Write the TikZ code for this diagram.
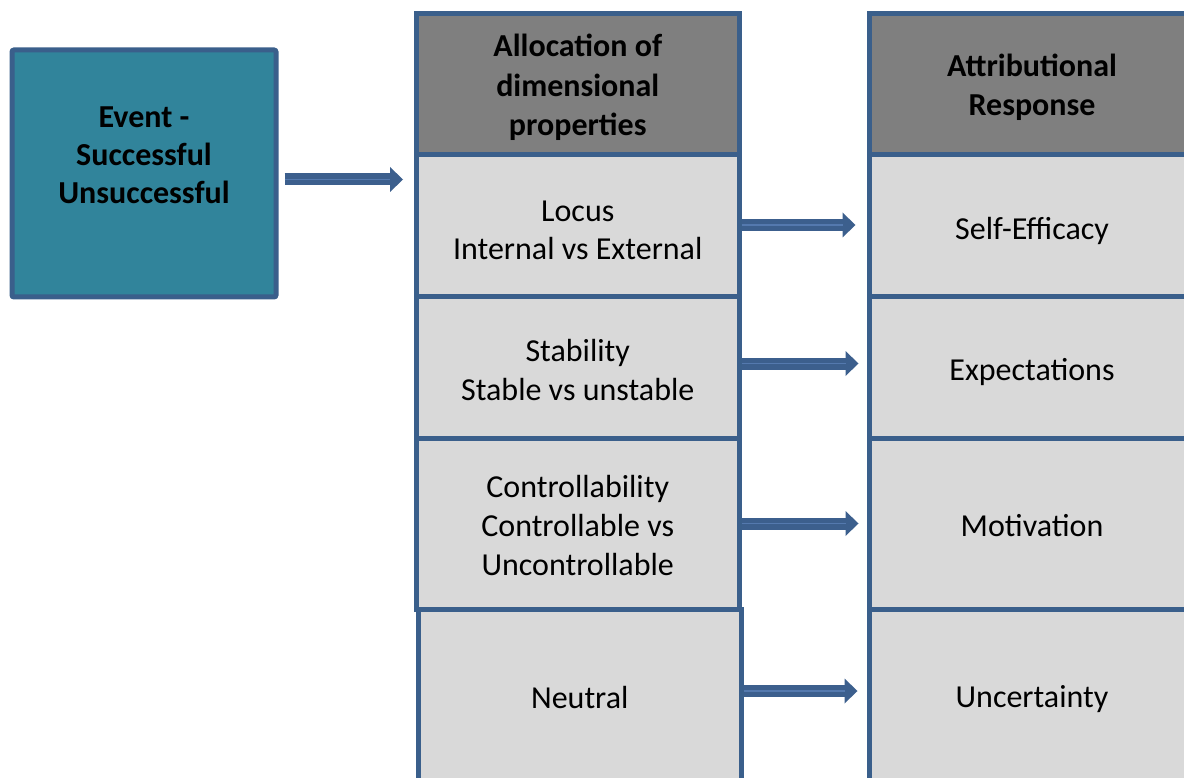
\documentclass[tikz,border=0pt]{standalone}
\usepackage{fontspec}
\setmainfont{Carlito}
\usetikzlibrary{arrows.meta,calc}
\definecolor{bordblue}{HTML}{3A5F8B}
\definecolor{evtteal}{HTML}{31849B}
\definecolor{hdrgray}{HTML}{7F7F7F}
\definecolor{rowgray}{HTML}{D9D9D9}
\definecolor{arrowblue}{HTML}{3C5F8D}
\definecolor{arrowlight}{HTML}{5479AE}
\tikzset{
  txt/.style={font=\fontsize{32pt}{38.5pt}\selectfont, align=center, inner sep=0pt},
  btxt/.style={txt, font=\fontsize{32pt}{39.5pt}\selectfont\bfseries},
  box/.style={draw=bordblue, line width=5pt, rectangle, inner sep=0pt},
  hdr/.style={box, fill=hdrgray},
  rowbox/.style={box, fill=rowgray},
  midcol/.style={minimum width=322.5pt},
  rightcol/.style={minimum width=326pt},
  bigarrow/.style={draw=arrowblue, line width=12pt,
    -{Triangle[length=13pt, width=25pt, line width=0pt]},
    postaction={draw=arrowlight, line width=1.5pt, -, shorten >=13pt}}
}
\begin{document}
\begin{tikzpicture}[x=1pt,y=-1pt]
\useasboundingbox (0,0) rectangle (1184,778);
\clip (0,0) rectangle (1184,778);
% event box
\node[box, fill=evtteal, rounded corners=2pt, minimum width=264pt, minimum height=247pt] (evt) at (144,173.5) {};
\node[btxt, font=\fontsize{32pt}{38pt}\selectfont\bfseries] (evttext) at (144,155) {Event -\\Successful\\Unsuccessful};
% middle column boxes
\node[hdr, midcol, minimum height=141pt] (alloc) at (577.75,84.5) {};
\node[rowbox, midcol, minimum height=142pt] (loc) at (577.75,226) {};
\node[rowbox, midcol, minimum height=141pt] (stab) at (577.75,367.5) {};
\node[rowbox, midcol, minimum height=171pt] (ctrl) at (577.75,523.5) {};
\node[rowbox, midcol, minimum height=181pt] (neu) at (579.75,699.5) {};
% right column boxes
\node[hdr, rightcol, minimum height=141pt] (attr) at (1032,84.5) {};
\node[rowbox, rightcol, minimum height=142pt] (eff) at (1032,226) {};
\node[rowbox, rightcol, minimum height=141pt] (expt) at (1032,367.5) {};
\node[rowbox, rightcol, minimum height=171pt] (mot) at (1032,523.5) {};
\node[rowbox, rightcol, minimum height=181pt] (unc) at (1032,699.5) {};
% texts
\node[btxt] (alloctext) at ([yshift=-3pt]alloc.center) {Allocation of\\dimensional\\properties};
\node[txt] (loctext) at ([yshift=-4.5pt]loc.center) {Locus\\Internal vs External};
\node[txt] (stabtext) at ([yshift=-2.5pt]stab.center) {Stability\\Stable vs unstable};
\node[txt, font=\fontsize{32pt}{39pt}\selectfont] (ctrltext) at ([yshift=-2.5pt]ctrl.center) {Controllability\\Controllable vs\\Uncontrollable};
\node[txt] (neutext) at ([yshift=2pt]neu.center) {Neutral};
\node[btxt] (attrtext) at ([yshift=-3pt]attr.center) {Attributional\\Response};
\node[txt] (efftext) at ([yshift=-5pt]eff.center) {Self-Efficacy};
\node[txt] (expttext) at ([yshift=-4.5pt]expt.center) {Expectations};
\node[txt] (mottext) at ([yshift=-2pt]mot.center) {Motivation};
\node[txt] (unctext) at (unc.center) {Uncertainty};
% arrows
\draw[bigarrow] ($(evt.east)+(6,6)$) -- ($(evt.east -| loc.west)+(-11,6)$);
\draw[bigarrow] ($(loc.east)+(0,-1)$) -- ($(eff.west)+(-11,-1)$);
\draw[bigarrow] ($(stab.east)+(0,-4)$) -- ($(expt.west)+(-8,-4)$);
\draw[bigarrow] (ctrl.east) -- ($(mot.west)+(-8,0)$);
\draw[bigarrow] ($(neu.east)+(0,-8.5)$) -- ($(unc.west)+(-9,-8.5)$);
\end{tikzpicture}
\end{document}
